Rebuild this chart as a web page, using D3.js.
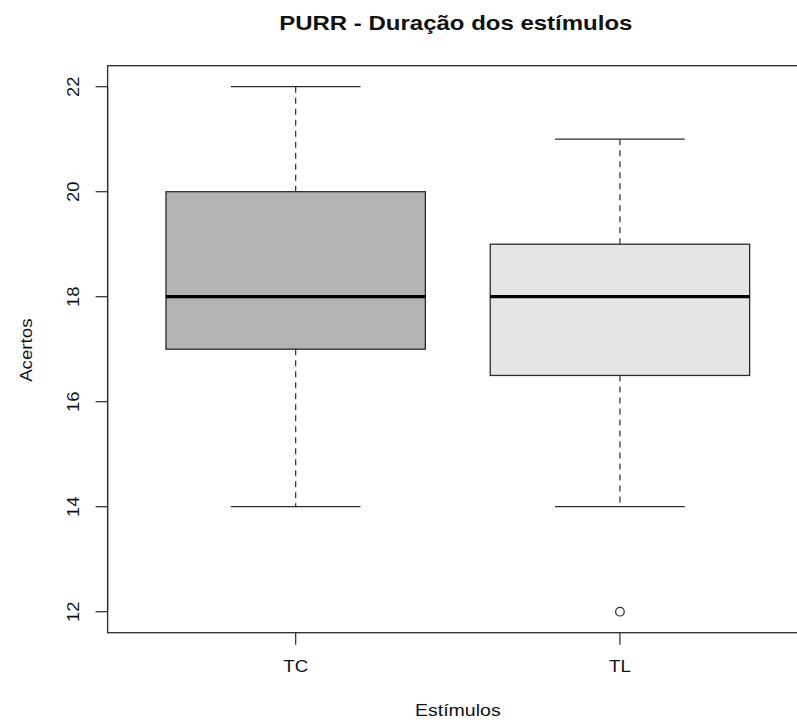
<!DOCTYPE html>
<html>
<head>
<meta charset="utf-8">
<script src="https://cdn.jsdelivr.net/npm/d3@7"></script>
<style>
  html, body { margin: 0; padding: 0; background: #fff; }
  svg { display: block; }
  text { font-family: "Liberation Sans", Arial, sans-serif; fill: #111; }
</style>
</head>
<body>
<svg id="chart" width="797" height="722"></svg>
<script>
// Five-number summaries per group
const categories = ["TC", "TL"];
const whiskerLow = [14, 14];
const quartile1 = [17, 16.5];
const medians = [18, 18];
const quartile3 = [20, 19];
const whiskerHigh = [22, 21];
const outliers = [[], [12]];
const fills = ["#b3b3b3", "#e5e5e5"];
const yTicks = [12, 14, 16, 18, 20, 22];

const svg = d3.select("#chart");

// Plot region (the frame extends past the right edge of the canvas)
const x = d3.scaleLinear().domain([0.42, 2.58]).range([107.6, 808]);
const y = d3.scaleLinear().domain([11.6, 22.4]).range([632.7, 65.7]);
const boxW = 0.8;
const ink = "#2b2b2b";

const groups = categories.map((c, i) => ({
  name: c, pos: i + 1,
  lo: whiskerLow[i], q1: quartile1[i], med: medians[i],
  q3: quartile3[i], hi: whiskerHigh[i], out: outliers[i], fill: fills[i]
}));

const g = svg.selectAll("g.box").data(groups).enter().append("g").attr("class", "box");

// Dashed whiskers
g.append("line")
  .attr("x1", d => x(d.pos)).attr("x2", d => x(d.pos))
  .attr("y1", d => y(d.hi)).attr("y2", d => y(d.q3))
  .attr("stroke", ink).attr("stroke-width", 1.2).attr("stroke-dasharray", "6,5");
g.append("line")
  .attr("x1", d => x(d.pos)).attr("x2", d => x(d.pos))
  .attr("y1", d => y(d.q1)).attr("y2", d => y(d.lo))
  .attr("stroke", ink).attr("stroke-width", 1.2).attr("stroke-dasharray", "6,5");

// Whisker caps
["lo", "hi"].forEach(k => {
  g.append("line")
    .attr("x1", d => x(d.pos - boxW / 4)).attr("x2", d => x(d.pos + boxW / 4))
    .attr("y1", d => y(d[k])).attr("y2", d => y(d[k]))
    .attr("stroke", ink).attr("stroke-width", 1.2);
});

// Boxes
g.append("rect")
  .attr("x", d => x(d.pos - boxW / 2))
  .attr("width", d => x(d.pos + boxW / 2) - x(d.pos - boxW / 2))
  .attr("y", d => y(d.q3))
  .attr("height", d => y(d.q1) - y(d.q3))
  .attr("fill", d => d.fill)
  .attr("stroke", ink).attr("stroke-width", 1.3);

// Medians
g.append("line")
  .attr("x1", d => x(d.pos - boxW / 2)).attr("x2", d => x(d.pos + boxW / 2))
  .attr("y1", d => y(d.med)).attr("y2", d => y(d.med))
  .attr("stroke", "#000").attr("stroke-width", 3.2);

// Outliers
g.selectAll("circle").data(d => d.out.map(v => ({ pos: d.pos, v }))).enter()
  .append("circle")
  .attr("cx", d => x(d.pos)).attr("cy", d => y(d.v)).attr("r", 4.3)
  .attr("fill", "none").attr("stroke", ink).attr("stroke-width", 1.2);

// Plot frame
svg.append("rect")
  .attr("x", x(0.42)).attr("y", y(22.4))
  .attr("width", x(2.58) - x(0.42)).attr("height", y(11.6) - y(22.4))
  .attr("fill", "none").attr("stroke", ink).attr("stroke-width", 1.3);

// Y axis
const yAxis = svg.append("g");
yAxis.append("line")
  .attr("x1", x(0.42)).attr("x2", x(0.42))
  .attr("y1", y(12)).attr("y2", y(22))
  .attr("stroke", ink).attr("stroke-width", 1.2);
yAxis.selectAll("line.tick").data(yTicks).enter().append("line")
  .attr("class", "tick")
  .attr("x1", x(0.42) - 12).attr("x2", x(0.42))
  .attr("y1", d => y(d)).attr("y2", d => y(d))
  .attr("stroke", ink).attr("stroke-width", 1.2);
yAxis.selectAll("text").data(yTicks).enter().append("text")
  .attr("transform", d => `translate(79,${y(d)}) rotate(-90) scale(1.08,1)`)
  .attr("text-anchor", "middle")
  .attr("font-size", 17)
  .text(d => d);

// X axis
const xAxis = svg.append("g");
xAxis.selectAll("line").data(groups).enter().append("line")
  .attr("x1", d => x(d.pos)).attr("x2", d => x(d.pos))
  .attr("y1", y(11.6)).attr("y2", y(11.6) + 12)
  .attr("stroke", ink).attr("stroke-width", 1.2);
xAxis.selectAll("text").data(groups).enter().append("text")
  .attr("transform", d => `translate(${x(d.pos)},672) scale(1.1,1)`)
  .attr("text-anchor", "middle")
  .attr("font-size", 17)
  .text(d => d.name);

// Titles
const cx = (x(0.42) + x(2.58)) / 2;
svg.append("text")
  .attr("transform", `translate(${cx - 2},30) scale(1.2,1)`)
  .attr("text-anchor", "middle")
  .attr("font-size", 20).attr("font-weight", "bold")
  .text("PURR - Duração dos estímulos");
svg.append("text")
  .attr("transform", `translate(${cx},716) scale(1.15,1)`)
  .attr("text-anchor", "middle")
  .attr("font-size", 17)
  .text("Estímulos");
svg.append("text")
  .attr("transform", `translate(32,${(y(11.6) + y(22.4)) / 2 + 1}) rotate(-90) scale(1.1,1)`)
  .attr("text-anchor", "middle")
  .attr("font-size", 17)
  .text("Acertos");
</script>
</body>
</html>
